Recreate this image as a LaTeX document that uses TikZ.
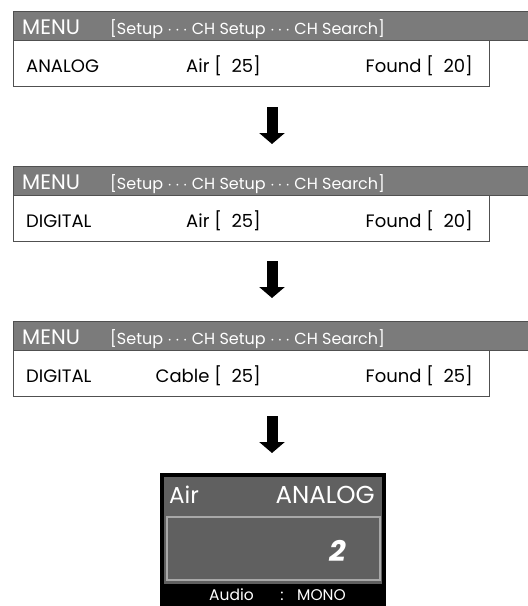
\documentclass[tikz,border=0pt]{standalone}
\usepackage{fontspec}
\setmainfont{Poppins}
\usetikzlibrary{arrows.meta, positioning}
\definecolor{barGray}{HTML}{7B7B7B}
\definecolor{lineGray}{HTML}{505050}
\definecolor{screenGray}{HTML}{606060}
\definecolor{frameGray}{HTML}{A8A8A8}

\begin{document}
\begin{tikzpicture}[x=1pt, y=-1pt,
    bar/.style={fill=barGray, draw=lineGray, line width=0.8pt},
    panel/.style={fill=white, draw=lineGray, line width=0.8pt},
    bartext/.style={text=white, inner sep=0pt, anchor=base west},
    rowtext/.style={inner sep=0pt, font=\fontsize{18}{18}\selectfont},
    bigarrow/.style={line width=11pt, -{Triangle[width=25pt, length=11pt]}}]
    \useasboundingbox (0,0) rectangle (528,606);
    \clip (0,0) rectangle (528,606);

    % Ba bảng dò kênh
    \foreach \y/\mode/\src/\n/\f [count=\i] in {11/ANALOG/Air/25/20, 166/DIGITAL/Air/25/20, 321/DIGITAL/Cable/25/25} {
        \draw[bar] (13,\y) rectangle (540,\y+29);
        \draw[panel] (13,\y+29) rectangle (489,\y+75);
        \node[bartext, font=\fontsize{21}{21}\selectfont] (menu\i) at (22,\y+23) {MENU};
        \node[bartext, font=\fontsize{16}{16}\selectfont] (path\i) at (110,\y+23) {[Setup $\cdots$ CH Setup $\cdots$ CH Search]};
        \node[rowtext, anchor=base west] (mode\i) at (26,\y+61) {\mode};
        \node[rowtext, anchor=base east] (src\i) at (261,\y+61) {\src\ [~~\n]};
        \node[rowtext, anchor=base east] (found\i) at (473,\y+61) {Found [~~\f]};
    }

    % Mũi tên chuyển bước
    \foreach \t [count=\i] in {107,261,416} {
        \coordinate (top\i) at (272,\t);
        \coordinate (tip\i) at (272,\t+37);
        \draw[bigarrow] (top\i) -- (tip\i);
    }

    % Màn hình kết quả
    \fill[black] (160,473) rectangle (386,606);
    \fill[screenGray] (164,477) rectangle (382,584);
    \draw[frameGray, fill=screenGray, line width=2.5pt] (167,517) rectangle (380,580);
    \node[bartext, font=\fontsize{23}{23}\selectfont] (air) at (169,503) {Air};
    \node[bartext, anchor=base east, font=\fontsize{24.5}{24.5}\selectfont] (analog) at (375,503) {ANALOG};
    \node[bartext, anchor=base east, font=\fontsize{29}{29}\selectfont\bfseries\itshape] (chan) at (346,561) {2};
    \node[bartext, font=\fontsize{15.5}{15.5}\selectfont] (audio) at (209,600) {Audio};
    \node[bartext, anchor=base, font=\fontsize{15.5}{15.5}\selectfont] (colon) at (282,600) {:};
    \node[bartext, font=\fontsize{15.5}{15.5}\selectfont] (mono) at (297,600) {MONO};
\end{tikzpicture}
\end{document}
